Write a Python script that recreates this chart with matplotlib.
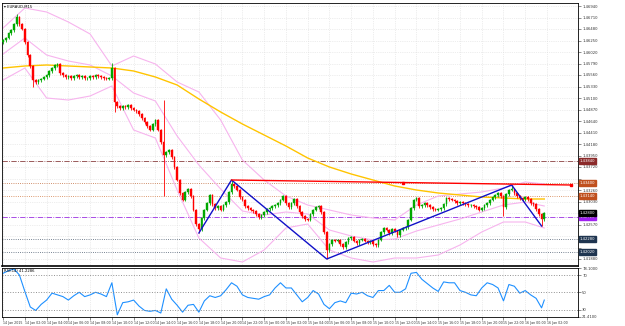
import matplotlib
matplotlib.use("Agg")
import matplotlib.pyplot as plt
import matplotlib.transforms as mtransforms

symbol_label = "EURAUD,M15"
rsi_label = "RSI(14) 41.2286"

# M15 closes, one per candle (open = previous close)
closes = [
    1.4626, 1.4630, 1.4640, 1.4646, 1.4658, 1.4672, 1.4658, 1.4648, 1.4622, 1.4596,
    1.4574, 1.4546, 1.4542, 1.4546, 1.4548, 1.4552, 1.4556, 1.4564, 1.4570, 1.4576,
    1.4578, 1.4560, 1.4556, 1.4552, 1.4554, 1.4550, 1.4554, 1.4556, 1.4552, 1.4554,
    1.4550, 1.4550, 1.4554, 1.4552, 1.4556, 1.4554, 1.4552, 1.4550, 1.4548, 1.4550,
    1.4570, 1.4502, 1.4494, 1.4490, 1.4494, 1.4492, 1.4496, 1.4490, 1.4486, 1.4484,
    1.4478, 1.4470, 1.4462, 1.4454, 1.4446, 1.4458, 1.4466, 1.4446, 1.4422, 1.4396,
    1.4402, 1.4406, 1.4392, 1.4372, 1.4346, 1.4320, 1.4306, 1.4322, 1.4328, 1.4314,
    1.4286, 1.4258, 1.4248, 1.4270, 1.4286, 1.4300, 1.4316, 1.4298, 1.4290, 1.4294,
    1.4286, 1.4296, 1.4302, 1.4322, 1.4338, 1.4334, 1.4326, 1.4312, 1.4306, 1.4294,
    1.4290, 1.4286, 1.4284, 1.4278, 1.4272, 1.4276, 1.4282, 1.4288, 1.4290, 1.4294,
    1.4296, 1.4300, 1.4306, 1.4314, 1.4300, 1.4292, 1.4300, 1.4308, 1.4294, 1.4282,
    1.4274, 1.4268, 1.4266, 1.4278, 1.4286, 1.4292, 1.4294, 1.4282, 1.4242, 1.4206,
    1.4218, 1.4226, 1.4224, 1.4226, 1.4218, 1.4212, 1.4222, 1.4230, 1.4232, 1.4224,
    1.4220, 1.4226, 1.4228, 1.4224, 1.4222, 1.4224, 1.4218, 1.4216, 1.4226, 1.4242,
    1.4250, 1.4246, 1.4240, 1.4248, 1.4244, 1.4236, 1.4246, 1.4250, 1.4252, 1.4266,
    1.4290, 1.4306, 1.4310, 1.4294, 1.4296, 1.4300, 1.4296, 1.4292, 1.4288, 1.4286,
    1.4288, 1.4290, 1.4298, 1.4310, 1.4308, 1.4306, 1.4304, 1.4300, 1.4302, 1.4300,
    1.4298, 1.4296, 1.4296, 1.4294, 1.4292, 1.4286, 1.4290, 1.4296, 1.4300, 1.4306,
    1.4312, 1.4316, 1.4320, 1.4314, 1.4292, 1.4318, 1.4326, 1.4328, 1.4320, 1.4314,
    1.4310, 1.4308, 1.4312, 1.4308, 1.4300, 1.4298, 1.4288, 1.4278, 1.4268, 1.4280,
]
first_open = 1.4622
# candles with long shadows: index -> (high, low), None = normal
long_wicks = {
    5: (1.4678, None), 11: (None, 1.4532), 40: (1.4580, None), 41: (None, 1.4482),
    59: (1.4506, 1.4314), 72: (None, 1.4240), 84: (1.4346, None),
    119: (None, 1.4188), 184: (None, 1.4274), 187: (1.4336, None), 198: (None, 1.4254),
}

# moving average and bollinger bands, read every 8 candles
band_idx = [0, 8, 16, 24, 32, 40, 48, 56, 64, 72, 80, 88, 96, 104, 112, 120,
            128, 136, 144, 152, 160, 168, 176, 184, 192, 199]
ma_slow = [1.4570, 1.4574, 1.4576, 1.4574, 1.4572, 1.4570, 1.4564, 1.4552, 1.4536,
           1.4508, 1.4482, 1.4458, 1.4436, 1.4414, 1.4390, 1.4372, 1.4358, 1.4346,
           1.4334, 1.4326, 1.4320, 1.4316, 1.4312, 1.4310, 1.4308, 1.4308]
bb_upper = [1.4650, 1.4690, 1.4682, 1.4662, 1.4638, 1.4574, 1.4594, 1.4578, 1.4542,
            1.4522, 1.4466, 1.4386, 1.4346, 1.4314, 1.4296, 1.4286, 1.4276, 1.4270,
            1.4266, 1.4296, 1.4314, 1.4318, 1.4322, 1.4330, 1.4342, 1.4338]
bb_middle = [1.4598, 1.4630, 1.4596, 1.4584, 1.4576, 1.4554, 1.4520, 1.4504, 1.4434,
             1.4376, 1.4328, 1.4284, 1.4276, 1.4282, 1.4278, 1.4246, 1.4234, 1.4226,
             1.4228, 1.4244, 1.4256, 1.4268, 1.4282, 1.4296, 1.4302, 1.4294]
bb_lower = [1.4546, 1.4570, 1.4510, 1.4506, 1.4514, 1.4534, 1.4446, 1.4430, 1.4326,
            1.4230, 1.4190, 1.4182, 1.4206, 1.4250, 1.4258, 1.4206, 1.4190, 1.4182,
            1.4190, 1.4190, 1.4196, 1.4216, 1.4242, 1.4262, 1.4262, 1.4250]

# RSI, every second candle plus the last one
rsi_idx = list(range(0, 200, 2)) + [199]
rsi_values = [
    72, 75, 77, 70, 51, 33, 29, 36, 41, 49,
    47, 45, 41, 46, 50, 45, 47, 50, 48, 45,
    61, 24, 38, 39, 41, 34, 29, 28, 29, 26,
    54, 42, 35, 27, 35, 36, 27, 40, 46, 44,
    46, 53, 61, 57, 47, 44, 43, 42, 45, 47,
    55, 61, 55, 55, 47, 39, 44, 52, 48, 36,
    31, 38, 40, 38, 49, 48, 50, 46, 44, 52,
    52, 58, 50, 50, 54, 72, 73, 65, 60, 55,
    51, 62, 61, 61, 52, 50, 47, 46, 55, 61,
    59, 55, 40, 59, 57, 49, 52, 47, 43, 32,
    41,
]
rsi_levels = [70, 50, 30]
rsi_range = [21.41, 78.10]

# zigzag and trend line
zigzag_idx = [72, 84, 119, 187, 198]
zigzag_price = [1.4240, 1.4346, 1.4188, 1.4336, 1.4254]
trend_idx = [84, 147, 209]
trend_price = [1.4346, 1.4341, 1.4336]

# horizontal levels
level_prices = [1.4384, 1.4340, 1.4314, 1.4272, 1.4228, 1.4202]
bid_price = 1.4280

price_ticks = [1.4694, 1.4671, 1.4648, 1.4625, 1.4602, 1.4579, 1.4556, 1.4533,
               1.4510, 1.4487, 1.4464, 1.4441, 1.4418, 1.4395, 1.4372, 1.4349,
               1.4326, 1.4303, 1.4280, 1.4257, 1.4234, 1.4211, 1.4188]
time_labels = ["14 Jan 2015", "14 Jan 02:00", "14 Jan 04:00", "14 Jan 06:00",
               "14 Jan 08:00", "14 Jan 10:00", "14 Jan 12:00", "14 Jan 14:00",
               "14 Jan 16:00", "14 Jan 18:00", "14 Jan 20:00", "14 Jan 22:00",
               "15 Jan 00:00", "15 Jan 02:00", "15 Jan 04:00", "15 Jan 06:00",
               "15 Jan 08:00", "15 Jan 10:00", "15 Jan 12:00", "15 Jan 14:00",
               "15 Jan 16:00", "15 Jan 18:00", "15 Jan 20:00", "15 Jan 22:00",
               "16 Jan 00:00", "16 Jan 02:00"]
time_tick_idx = list(range(0, 208, 8))

FS = 2.7
FS_TIME = 2.3
fig = plt.figure(figsize=(6.25, 3.26), dpi=100)
ax = fig.add_axes([2 / 625, 1 - 266 / 326, 576 / 625, 263 / 326])
ax_rsi = fig.add_axes([2 / 625, 1 - 317 / 326, 576 / 625, 49 / 326], sharex=ax)

# candles
opens = [first_open] + closes[:-1]
for i, (o, c) in enumerate(zip(opens, closes)):
    col = "#00a800" if c >= o else "#ff0000"
    hi = max(o, c) + 0.0003
    lo = min(o, c) - 0.0003
    if i in long_wicks:
        h, l = long_wicks[i]
        hi = h if h is not None else hi
        lo = l if l is not None else lo
    ax.vlines(i, lo, hi, color=col, lw=0.6, zorder=3)
    ax.bar(i, max(abs(c - o), 0.00006), bottom=min(o, c), width=0.62,
           color=col, edgecolor=col, lw=0.3, zorder=4)

ax.plot(band_idx, bb_upper, color="#f7b4ee", lw=0.8, zorder=2)
ax.plot(band_idx, bb_middle, color="#f7b4ee", lw=0.8, zorder=2)
ax.plot(band_idx, bb_lower, color="#f7b4ee", lw=0.8, zorder=2)
ax.plot(band_idx, ma_slow, color="#ffc400", lw=1.0, zorder=2)

ax.plot(zigzag_idx, zigzag_price, color="#1010c8", lw=1.0, zorder=5)
ax.plot([trend_idx[0], trend_idx[-1]], [trend_price[0], trend_price[-1]],
        color="#ff0000", lw=1.0, zorder=5)
ax.plot(trend_idx[1:], trend_price[1:], ls="none", marker="s", ms=2,
        color="#ff0000", zorder=6)

level_colors = ["#8b4040", "#c06a3a", "#d07840", "#9b30e0", "#4a5a6e", "#4a5a6e"]
level_styles = ["-.", ":", ":", "-.", ":", ":"]
box_colors = ["#8b2a2a", "#c0501e", "#c0501e", "#a020f0", "#1f3550", "#1f3550"]
for p, lc, ls in zip(level_prices, level_colors, level_styles):
    ax.axhline(p, color=lc, ls=ls, lw=0.6, zorder=1)

ax.set_xlim(-0.4, 211.4)
ax.set_ylim(1.4174, 1.4700)
ax.yaxis.tick_right()
ax.set_yticks(price_ticks)
# labels hidden behind the coloured price boxes stay blank
boxed = level_prices + [bid_price]
ax.set_yticklabels(["" if min(abs(p - b) for b in boxed) < 0.0011 else f"{p:.5f}"
                    for p in price_ticks])
ax.tick_params(axis="y", labelsize=FS, length=2, pad=1, width=0.4, colors="#333333")
ax.tick_params(axis="x", bottom=False, labelbottom=False)
ax.set_xticks(time_tick_idx)
ax.grid(True, color="#dcdcdc", ls=":", lw=0.5)
ax.set_axisbelow(True)
for s in ax.spines.values():
    s.set_linewidth(0.6)
ax.spines["bottom"].set_linewidth(1.2)

trans = mtransforms.blended_transform_factory(ax.transAxes, ax.transData)
for p, bc in zip(level_prices, box_colors):
    ax.text(1.003, p, f"{p:.5f}", transform=trans, fontsize=FS, color="white",
            va="center", ha="left", clip_on=False, zorder=10,
            bbox=dict(boxstyle="square,pad=0.15", fc=bc, ec=bc))
ax.text(1.003, bid_price, f"{bid_price:.5f}", transform=trans, fontsize=FS,
        color="white", va="center", ha="left", clip_on=False, zorder=11,
        bbox=dict(boxstyle="square,pad=0.15", fc="black", ec="black"))
ax.text(0.004, 0.993, "\u25be " + symbol_label, transform=ax.transAxes,
        fontsize=FS, va="top", ha="left", color="black")

# RSI panel
ax_rsi.plot(rsi_idx, rsi_values, color="#1e90ff", lw=0.8)
for lv in rsi_levels:
    ax_rsi.axhline(lv, color="#909090", ls=":", lw=0.7)
ax_rsi.set_ylim(rsi_range)
ax_rsi.yaxis.tick_right()
rsi_ticks = [rsi_range[1]] + rsi_levels + [rsi_range[0]]
ax_rsi.set_yticks(rsi_ticks)
ax_rsi.set_yticklabels([f"{rsi_range[1]:.4f}"] + [str(v) for v in rsi_levels]
                       + [f"{rsi_range[0]:.4f}"])
ax_rsi.tick_params(axis="y", labelsize=FS, length=2, pad=1, width=0.4, colors="#333333")
ax_rsi.set_xticks(time_tick_idx)
ax_rsi.set_xticklabels(time_labels, ha="left")
ax_rsi.tick_params(axis="x", labelsize=FS_TIME, length=2, pad=1, width=0.4, colors="#333333")
ax_rsi.grid(True, axis="x", color="#dcdcdc", ls=":", lw=0.5)
for s in ax_rsi.spines.values():
    s.set_linewidth(0.6)
ax_rsi.text(0.004, 0.97, rsi_label, transform=ax_rsi.transAxes, fontsize=FS,
            va="top", ha="left", color="black")

fig.savefig("out.png", dpi=100, facecolor="white")
